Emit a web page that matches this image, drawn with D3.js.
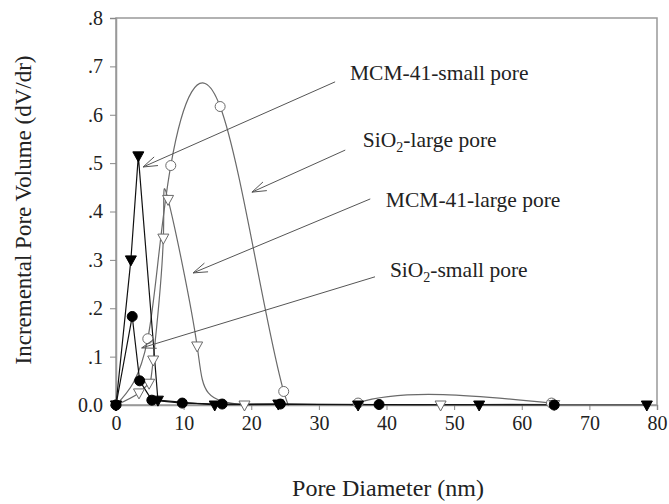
<html>
<head>
  <script src="https://d3js.org/d3.v7.min.js"></script>
  <style>
  body{
      margin: 0;
      background: #fff;
    }
  </style>
</head>
<body>
  <script type="text/javascript">
    var width=669;
    var height=504;
    var serif="'Liberation Serif','Times New Roman',Times,serif";

    // x ticks / y ticks
    var xTicks=[0,10,20,30,40,50,60,70,80];
    var yTicks=[0,0.1,0.2,0.3,0.4,0.5,0.6,0.7,0.8];

    // MCM-41-small pore (filled down triangles)
    var mcmSmallX=[0,2.2,3.3,6.2,14.6,24,35.8,53.7,78.5];
    var mcmSmallY=[0,0.30,0.515,0.01,0,0.002,0,0,0];
    // SiO2-small pore (filled circles)
    var sioSmallX=[0,2.4,3.5,5.3,9.8,15.7,24.3,38.9,64.8];
    var sioSmallY=[0,0.183,0.05,0.01,0.004,0.002,0.002,0.001,0];
    // MCM-41-large pore (open down triangles)
    var mcmLargeX=[0,3.4,4.9,5.5,7.0,7.7,12.0,19.0,48.0,64.8];
    var mcmLargeY=[0,0.025,0.045,0.093,0.345,0.425,0.122,0,0,0.001];
    // SiO2-large pore (open circles)
    var sioLargeX=[0,4.7,8.1,15.4,24.8,35.8,64.4];
    var sioLargeY=[0,0.137,0.495,0.617,0.028,0.004,0.004];

    // labels with arrows: text position, arrow start, arrow tip (data units)
    var notes=[
      {name:"MCM-41-small pore", tx:34.6, ty:0.672, x1:32.4, y1:0.668, x2:4.0, y2:0.492},
      {name:"SiO|2|-large pore", tx:36.5, ty:0.533, x1:33.9, y1:0.527, x2:20.1, y2:0.44},
      {name:"MCM-41-large pore", tx:39.9, ty:0.409, x1:37.6, y1:0.426, x2:11.4, y2:0.273},
      {name:"SiO|2|-small pore", tx:40.5, ty:0.265, x1:38.3, y1:0.265, x2:3.8, y2:0.118}
    ];

    var zip=function(xs,ys){
      return xs.map(function(d,i){ return [d,ys[i]] })
    }

    var series=[
      {pts:zip(sioLargeX,sioLargeY), curve:d3.curveNatural, line:"#6a6a6a", fill:"#fff", stroke:"#6a6a6a", shape:"circle"},
      {pts:zip(mcmLargeX,mcmLargeY), curve:d3.curveNatural, line:"#6a6a6a", fill:"#fff", stroke:"#6a6a6a", shape:"tri"},
      {pts:zip(sioSmallX,sioSmallY), curve:d3.curveLinear, line:"#111", fill:"#000", stroke:"#000", shape:"circle"},
      {pts:zip(mcmSmallX,mcmSmallY), curve:d3.curveLinear, line:"#111", fill:"#000", stroke:"#000", shape:"tri"}
    ];

    var x=d3.scaleLinear().domain([0,80]).range([116,657]);
    var y=d3.scaleLinear().domain([0,0.8]).range([405,18]);

    var svg=d3.select("body").append("svg")
              .attr("width",width)
              .attr("height",height)
              .attr("font-family",serif);

    svg.append("clipPath").attr("id","plot")
       .append("rect")
       .attr("x",x(0)).attr("y",y(0.8))
       .attr("width",x(80)-x(0)).attr("height",y(0)-y(0.8)+0.5);

    // frame
    svg.append("rect")
       .attr("x",x(0)).attr("y",y(0.8))
       .attr("width",x(80)-x(0)).attr("height",y(0)-y(0.8))
       .attr("fill","none")
       .attr("stroke","#999")
       .attr("stroke-width",1.5);

    var xAxis=svg.append("g")
       .attr("transform","translate(0,"+y(0)+")")
       .call(d3.axisBottom(x).tickValues(xTicks).tickSize(5).tickPadding(6));
    var yAxis=svg.append("g")
       .attr("transform","translate("+x(0)+",0)")
       .call(d3.axisLeft(y).tickValues(yTicks).tickSize(6).tickPadding(7)
               .tickFormat(function(d){ return d===0 ? "0.0" : d3.format(".1f")(d).replace("0.",".") }));
    [xAxis,yAxis].forEach(function(g){
      g.attr("font-family",serif).attr("font-size",20);
      g.select(".domain").attr("stroke","#999").attr("stroke-width",1.5);
      g.selectAll(".tick line").attr("stroke","#888");
      g.selectAll("text").attr("fill","#222");
    })

    // lines
    series.forEach(function(s){
      var line=d3.line()
                 .x(function(d){ return x(d[0]) })
                 .y(function(d){ return y(d[1]) })
                 .curve(s.curve);
      svg.append("path")
         .attr("d",line(s.pts))
         .attr("clip-path","url(#plot)")
         .attr("fill","none")
         .attr("stroke",s.line)
         .attr("stroke-width",1.2);
    })

    // markers
    series.forEach(function(s){
      var g=svg.append("g");
      if(s.shape=="circle"){
        g.selectAll("circle")
         .data(s.pts)
         .enter()
         .append("circle")
         .attr("cx",function(d){ return x(d[0]) })
         .attr("cy",function(d){ return y(d[1]) })
         .attr("r",5)
         .attr("fill",s.fill)
         .attr("stroke",s.stroke)
         .attr("stroke-width",1);
      } else {
        g.selectAll("path")
         .data(s.pts)
         .enter()
         .append("path")
         .attr("d",function(d){
           var cx=x(d[0]), cy=y(d[1]);
           return "M"+(cx-5.5)+","+(cy-4)+"L"+(cx+5.5)+","+(cy-4)+"L"+cx+","+(cy+6)+"Z"
         })
         .attr("fill",s.fill)
         .attr("stroke",s.stroke)
         .attr("stroke-width",1);
      }
    })

    // arrows
    notes.forEach(function(n){
      var ax=x(n.x1), ay=y(n.y1), bx=x(n.x2), by=y(n.y2);
      var ang=Math.atan2(ay-by,ax-bx);
      var len=15, spread=0.32;
      svg.append("line")
         .attr("x1",ax).attr("y1",ay).attr("x2",bx).attr("y2",by)
         .attr("stroke","#555").attr("stroke-width",1);
      svg.append("path")
         .attr("d","M"+(bx+len*Math.cos(ang+spread))+","+(by+len*Math.sin(ang+spread))
                  +"L"+bx+","+by
                  +"L"+(bx+len*Math.cos(ang-spread))+","+(by+len*Math.sin(ang-spread)))
         .attr("fill","none")
         .attr("stroke","#555").attr("stroke-width",1);

      var t=svg.append("text")
         .attr("x",x(n.tx))
         .attr("y",y(n.ty))
         .attr("fill","#222")
         .attr("font-size",21.5);
      var parts=n.name.split("|");
      parts.forEach(function(p,i){
        var ts=t.append("tspan").text(p);
        if(i==1){
          ts.attr("dy",5).attr("font-size",14);
        } else if(i==2){
          ts.attr("dy",-5);
        }
      })
    })

    // axis titles
    svg.append("text")
       .attr("x",388)
       .attr("y",496)
       .attr("text-anchor","middle")
       .attr("fill","#222")
       .attr("font-size",24)
       .text("Pore Diameter (nm)");
    svg.append("text")
       .attr("transform","translate(31,210) rotate(-90)")
       .attr("text-anchor","middle")
       .attr("fill","#222")
       .attr("font-size",23)
       .text("Incremental Pore Volume (dV/dr)");

  </script>
  </body>
</html>
